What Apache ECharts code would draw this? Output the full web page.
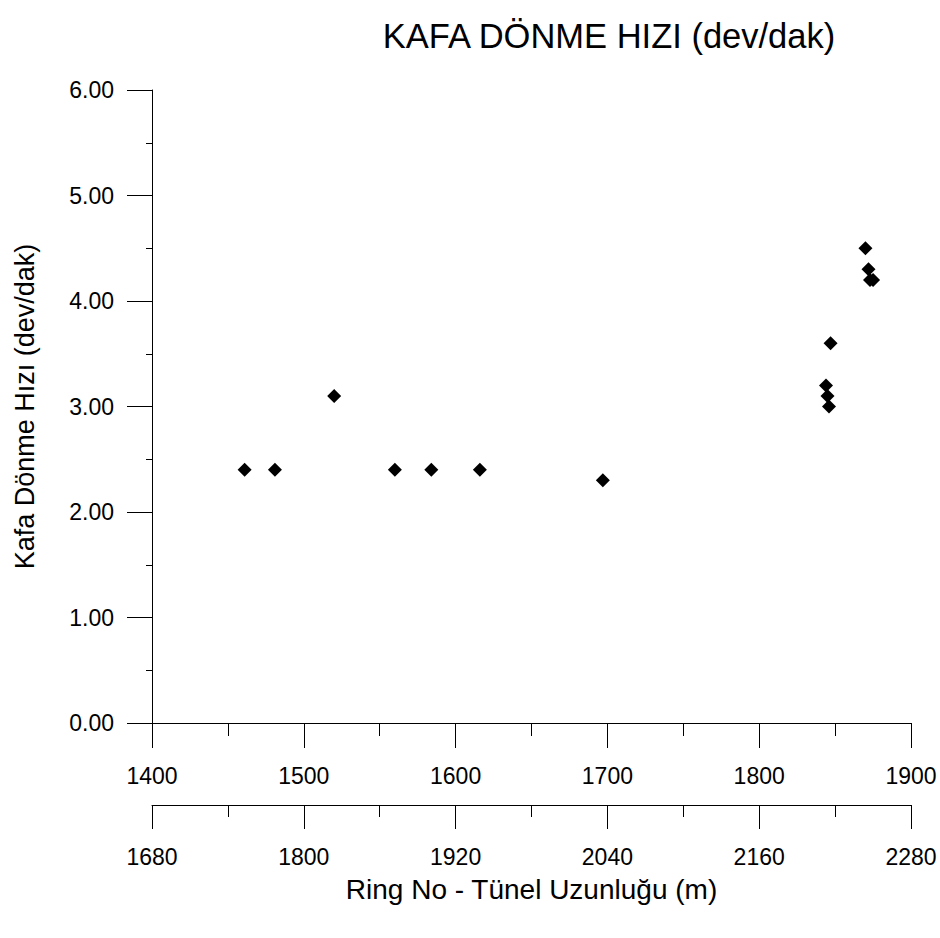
<!DOCTYPE html>
<html>
<head>
<meta charset="utf-8">
<script src="https://cdn.jsdelivr.net/npm/echarts@6/dist/echarts.min.js"></script>
<style>
html,body{margin:0;padding:0;background:#fff;}
#chart{width:940px;height:938px;}
</style>
</head>
<body>
<div id="chart"></div>
<script>
const chartTitle = "KAFA DÖNME HIZI (dev/dak)";
const yAxisName = "Kafa Dönme Hızı (dev/dak)";
const xAxisName = "Ring No - Tünel Uzunluğu (m)";
const ringNo = [1461, 1481, 1520, 1560, 1584, 1616, 1697, 1844, 1845, 1846, 1847, 1870, 1872, 1873, 1875];
const speed  = [2.4, 2.4, 3.1, 2.4, 2.4, 2.4, 2.3, 3.2, 3.1, 3.0, 3.6, 4.5, 4.3, 4.2, 4.2];
const ringTicks = [1400, 1500, 1600, 1700, 1800, 1900];
const lengthTicks = [1680, 1800, 1920, 2040, 2160, 2280];
const speedTicks = [0, 1, 2, 3, 4, 5, 6];

const font = "'Liberation Sans', Arial, sans-serif";
const chart = echarts.init(document.getElementById('chart'), null, {renderer: 'svg'});
const axisBase = {
  axisLine: {show: true, lineStyle: {color: '#000', width: 1}},
  axisTick: {show: true, length: 25, lineStyle: {color: '#000', width: 1}},
  minorTick: {show: true, splitNumber: 2, length: 13, lineStyle: {color: '#000', width: 1}},
  splitLine: {show: false},
  minorSplitLine: {show: false}
};
chart.setOption({
  animation: false,
  backgroundColor: '#fff',
  graphic: [{
    type: 'text', x: 609, y: 36,
    style: {text: chartTitle, fill: '#000', font: "34.5px " + font, align: 'center', verticalAlign: 'middle'}
  }],
  grid: {left: 152, right: 29, top: 90, bottom: 215, containLabel: false},
  xAxis: [
    Object.assign({}, axisBase, {
      type: 'value', position: 'bottom', min: ringTicks[0], max: ringTicks[ringTicks.length - 1],
      interval: ringTicks[1] - ringTicks[0],
      axisLabel: {color: '#000', fontSize: 23, fontFamily: font, margin: 41, formatter: v => String(v)}
    }),
    Object.assign({}, axisBase, {
      type: 'value', position: 'bottom', offset: 82,
      min: lengthTicks[0], max: lengthTicks[lengthTicks.length - 1],
      interval: lengthTicks[1] - lengthTicks[0],
      axisTick: {show: true, length: 24, lineStyle: {color: '#000', width: 1}},
      minorTick: {show: true, splitNumber: 2, length: 12, lineStyle: {color: '#000', width: 1}},
      axisLabel: {color: '#000', fontSize: 23, fontFamily: font, margin: 40, formatter: v => String(v)},
      name: xAxisName, nameLocation: 'middle', nameGap: 70,
      nameTextStyle: {color: '#000', fontSize: 28, fontFamily: font}
    })
  ],
  yAxis: Object.assign({}, axisBase, {
    type: 'value', min: speedTicks[0], max: speedTicks[speedTicks.length - 1],
    interval: speedTicks[1] - speedTicks[0],
    axisTick: {show: true, length: 25, lineStyle: {color: '#000', width: 1}},
    minorTick: {show: true, splitNumber: 2, length: 6, lineStyle: {color: '#000', width: 1}},
    axisLabel: {color: '#000', fontSize: 23, fontFamily: font, margin: 38, formatter: v => v.toFixed(2)},
    name: yAxisName, nameLocation: 'middle', nameGap: 114,
    nameTextStyle: {color: '#000', fontSize: 27, fontFamily: font}
  }),
  series: [{
    type: 'scatter', xAxisIndex: 0, yAxisIndex: 0,
    symbol: 'diamond', symbolSize: 14,
    itemStyle: {color: '#000', opacity: 1},
    data: ringNo.map((r, i) => [r, speed[i]])
  }]
});
</script>
</body>
</html>
